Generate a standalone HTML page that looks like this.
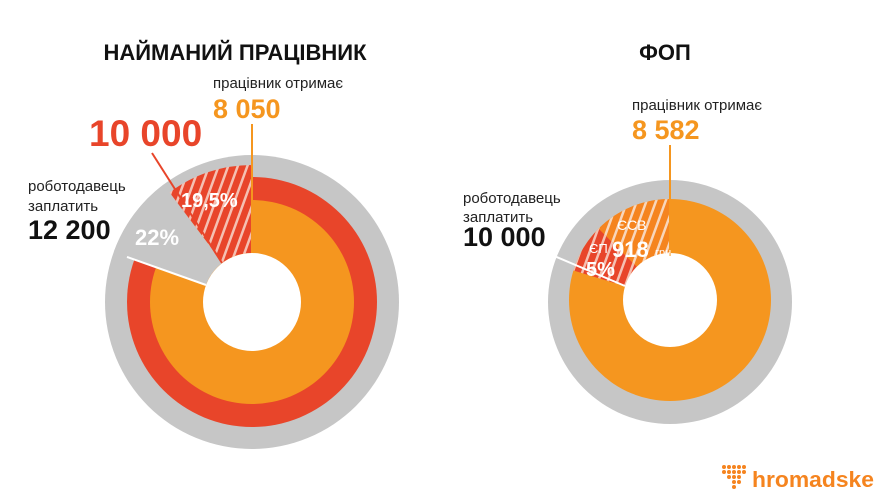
<!DOCTYPE html>
<html><head><meta charset="utf-8"><style>
html,body{margin:0;padding:0;background:#fff;}
svg{display:block;font-family:"Liberation Sans","DejaVu Sans",sans-serif;}
</style></head><body>
<svg width="889" height="500" viewBox="0 0 889 500" xmlns="http://www.w3.org/2000/svg">
<defs>
<pattern id="hr" width="9" height="9" patternUnits="userSpaceOnUse" patternTransform="rotate(20)">
<rect width="9" height="9" fill="#e8452a"/><rect x="0" width="2.5" height="9" fill="#f5c0b2"/></pattern>
<pattern id="ho" width="9" height="9" patternUnits="userSpaceOnUse" patternTransform="rotate(20)">
<rect width="9" height="9" fill="#f5841f"/><rect x="0" width="2.5" height="9" fill="#f8d6bb"/></pattern>
<pattern id="hr2" width="9" height="9" patternUnits="userSpaceOnUse" patternTransform="rotate(20)">
<rect width="9" height="9" fill="#e8452a"/><rect x="0" width="2.5" height="9" fill="#f5c0b2"/></pattern>
</defs>
<text x="235" y="60" text-anchor="middle" font-size="22" font-weight="bold" fill="#111">НАЙМАНИЙ ПРАЦІВНИК</text>
<text x="665" y="60" text-anchor="middle" font-size="22" font-weight="bold" fill="#111">ФОП</text>

<!-- left chart -->
<circle cx="252" cy="302" r="147" fill="#c6c6c6"/>
<circle cx="252" cy="302" r="125" fill="#e8452a"/>
<circle cx="252" cy="302" r="102" fill="#f5961f"/>
<path d="M252,165 A137,137 0 0 0 169.5,192.5 L222.5,262.8 A49,49 0 0 1 252,253 Z" fill="url(#hr)"/>
<path d="M163.5,184.5 A147,147 0 0 0 113.8,251.7 L205.9,285.2 A49,49 0 0 1 222.5,262.8 Z" fill="#c6c6c6"/>
<circle cx="252" cy="302" r="49" fill="#fff"/>
<line x1="252" y1="124" x2="252" y2="253" stroke="#f5961f" stroke-width="2"/>
<line x1="152" y1="153" x2="222" y2="263" stroke="#e8452a" stroke-width="2"/>
<line x1="127" y1="257" x2="206" y2="285" stroke="#fff" stroke-width="2"/>
<text x="181" y="207" font-size="20" font-weight="bold" fill="#fff">19,5%</text>
<text x="135" y="245" font-size="22" font-weight="bold" fill="#fff">22%</text>
<text x="213" y="88" font-size="15" fill="#222">працівник отримає</text>
<text x="213" y="118" font-size="27" font-weight="bold" fill="#f5961f">8 050</text>
<text x="89" y="146" font-size="37" font-weight="bold" fill="#e8452a">10 000</text>
<text x="28" y="191" font-size="15" fill="#222">роботодавець</text>
<text x="28" y="211" font-size="15" fill="#222">заплатить</text>
<text x="28" y="239" font-size="27" font-weight="bold" fill="#111">12 200</text>

<!-- right chart -->
<circle cx="670" cy="302" r="122" fill="#c6c6c6"/>
<circle cx="670" cy="300" r="101" fill="#f5961f"/>
<path d="M670,199 A101,101 0 0 0 598.6,228.6 L636.8,266.8 A47,47 0 0 1 670,253 Z" fill="url(#ho)"/>
<path d="M598.6,228.6 A101,101 0 0 0 573.4,270.5 L625.1,286.3 A47,47 0 0 1 636.8,266.8 Z" fill="url(#hr2)"/>
<circle cx="670" cy="300" r="47" fill="#fff"/>
<line x1="670" y1="145" x2="670" y2="256" stroke="#f5961f" stroke-width="2"/>
<line x1="533" y1="247" x2="625" y2="286" stroke="#fff" stroke-width="2"/>
<text x="617" y="230" font-size="14" fill="#fff">ЄСВ</text>
<text x="612" y="257" font-size="22" font-weight="bold" fill="#fff">918</text>
<text x="655" y="256" font-size="11" fill="#fff">грн</text>
<text x="589" y="253" font-size="13" fill="#fff">ЄП</text>
<text x="586" y="276" font-size="20" font-weight="bold" fill="#fff">5%</text>
<text x="632" y="110" font-size="15" fill="#222">працівник отримає</text>
<text x="632" y="139" font-size="27" font-weight="bold" fill="#f5961f">8 582</text>
<text x="463" y="203" font-size="15" fill="#222">роботодавець</text>
<text x="463" y="222" font-size="15" fill="#222">заплатить</text>
<text x="463" y="246" font-size="27" font-weight="bold" fill="#111">10 000</text>

<!-- logo -->
<g fill="#f5841f">
<circle cx="724" cy="467" r="2"/><circle cx="729" cy="467" r="2"/><circle cx="734" cy="467" r="2"/><circle cx="739" cy="467" r="2"/><circle cx="744" cy="467" r="2"/>
<circle cx="724" cy="472" r="2"/><circle cx="729" cy="472" r="2"/><circle cx="734" cy="472" r="2"/><circle cx="739" cy="472" r="2"/><circle cx="744" cy="472" r="2"/>
<circle cx="729" cy="477" r="2"/><circle cx="734" cy="477" r="2"/><circle cx="739" cy="477" r="2"/>
<circle cx="734" cy="482" r="2"/><circle cx="739" cy="482" r="2"/>
<circle cx="734" cy="487" r="2"/>
</g>
<text x="752" y="487" font-size="22" font-weight="bold" fill="#f5841f" textLength="122" lengthAdjust="spacingAndGlyphs">hromadske</text>
</svg>
</body></html>
